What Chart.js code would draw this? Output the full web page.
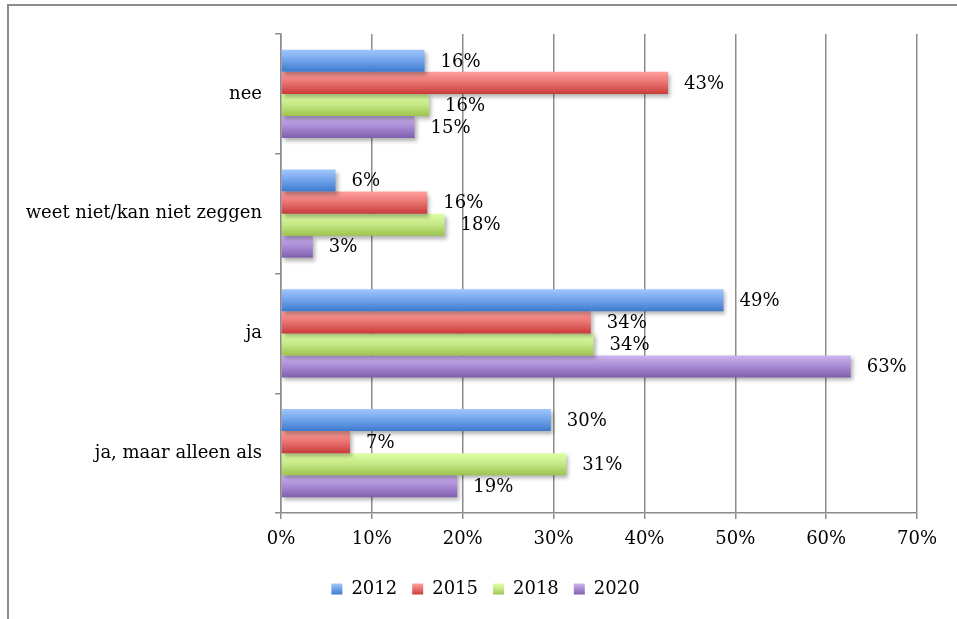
<!DOCTYPE html>
<html>
<head>
<meta charset="utf-8">
<script src="https://cdn.jsdelivr.net/npm/chart.js@4/dist/chart.umd.min.js"></script>
<style>
  html, body { margin: 0; padding: 0; background: #fff; overflow: hidden; }
  #frame { position: absolute; left: 7px; top: 4px; width: 2000px; height: 2000px;
           border-left: 2px solid #8c8c8c; border-top: 2px solid #8c8c8c; }
  canvas { position: absolute; left: 0; top: 0; }
</style>
</head>
<body>
<div id="frame"></div>
<canvas id="chart" width="957" height="619"></canvas>
<script>
// categories, top to bottom
const categories = ["nee", "weet niet/kan niet zeggen", "ja", "ja, maar alleen als"];
const years = ["2012", "2015", "2018", "2020"];

// bar lengths in %
const values2012 = [15.8, 6.0, 48.7, 29.7];
const values2015 = [42.6, 16.1, 34.1, 7.6];
const values2018 = [16.3, 18.0, 34.4, 31.4];
const values2020 = [14.7, 3.5, 62.7, 19.4];

// printed value labels
const labels2012 = ["16%", "6%", "49%", "30%"];
const labels2015 = ["43%", "16%", "34%", "7%"];
const labels2018 = ["16%", "18%", "34%", "31%"];
const labels2020 = ["15%", "3%", "63%", "19%"];

const xTicks = [0, 10, 20, 30, 40, 50, 60, 70];

// light / mid / dark for the bar gradients
const shades = [
  ["#a0c6fc", "#6fa2ea", "#3c79cc"],
  ["#ffa09e", "#e87270", "#c93c3a"],
  ["#e0ffa6", "#c4e884", "#9ec44e"],
  ["#cdb4ee", "#a98bd4", "#7f5fae"]
];

const allValues = [values2012, values2015, values2018, values2020];
const allLabels = [labels2012, labels2015, labels2018, labels2020];

const serif = "'DejaVu Serif', serif";
const gridGray = "#8c8c8c";

function vGrad(ctx, top, h, s) {
  const g = ctx.createLinearGradient(0, top, 0, top + h);
  g.addColorStop(0, s[0]);
  g.addColorStop(0.5, s[1]);
  g.addColorStop(1, s[2]);
  return g;
}

const barStyle = {
  id: "barStyle",
  afterLayout(chart) {
    // legend sits a bit right of the canvas centre
    chart.legend.left += 27;
    chart.legend.right += 27;
  },
  beforeDraw(chart) {
    const lg = chart.legend;
    lg.legendItems.forEach((item, i) => {
      const hb = lg.legendHitBoxes[i];
      item.fillStyle = vGrad(chart.ctx, hb.top + (hb.height - 11) / 2, 11, shades[i]);
      item.lineWidth = 0;
      item.strokeStyle = "rgba(0,0,0,0)";
    });
  },
  beforeDatasetsDraw(chart) {
    const ctx = chart.ctx;
    chart.data.datasets.forEach((ds, i) => {
      chart.getDatasetMeta(i).data.forEach(bar => {
        const g = vGrad(ctx, bar.y - bar.height / 2, bar.height, shades[i]);
        bar.options = Object.assign({}, bar.options, { backgroundColor: g });
      });
    });
    ctx.save();
    ctx.shadowColor = "rgba(0,0,0,0.3)";
    ctx.shadowBlur = 4;
    ctx.shadowOffsetX = 2;
    ctx.shadowOffsetY = 3;
  },
  afterDatasetsDraw(chart) {
    const ctx = chart.ctx;
    ctx.restore();
    ctx.save();
    ctx.font = "18px " + serif;
    ctx.fillStyle = "#000";
    ctx.textBaseline = "middle";
    ctx.textAlign = "left";
    chart.data.datasets.forEach((ds, i) => {
      chart.getDatasetMeta(i).data.forEach((bar, j) => {
        ctx.fillText(allLabels[i][j], bar.x + 16, bar.y + 1);
      });
    });
    ctx.restore();
  }
};

new Chart(document.getElementById("chart"), {
  type: "bar",
  data: {
    labels: categories,
    datasets: years.map((y, i) => ({
      label: y,
      data: allValues[i],
      backgroundColor: shades[i][1],
      borderWidth: 0,
      categoryPercentage: 0.735,
      barPercentage: 1.0
    }))
  },
  options: {
    indexAxis: "y",
    responsive: false,
    animation: false,
    devicePixelRatio: 1,
    layout: { padding: { top: 34, left: 0, right: 40, bottom: 11 } },
    plugins: {
      legend: {
        position: "bottom",
        labels: {
          boxWidth: 11, boxHeight: 11, padding: 15,
          color: "#000", font: { family: serif, size: 18 }
        }
      },
      tooltip: { enabled: false }
    },
    scales: {
      x: {
        min: 0, max: 70,
        afterBuildTicks: s => { s.ticks = xTicks.map(v => ({ value: v })); },
        afterFit: s => { s.height = 52; },
        ticks: { callback: v => v + "%", color: "#000", padding: 10, font: { family: serif, size: 18 } },
        grid: { color: gridGray, lineWidth: 1.5, tickLength: 6 },
        border: { color: gridGray, width: 1.5 }
      },
      y: {
        afterFit: s => { s.width = 281; },
        ticks: { color: "#000", padding: 13, font: { family: serif, size: 18 } },
        grid: { drawOnChartArea: false, color: gridGray, lineWidth: 1.5, tickLength: 6 },
        border: { color: gridGray, width: 1.5 }
      }
    }
  },
  plugins: [barStyle]
});
</script>
</body>
</html>
